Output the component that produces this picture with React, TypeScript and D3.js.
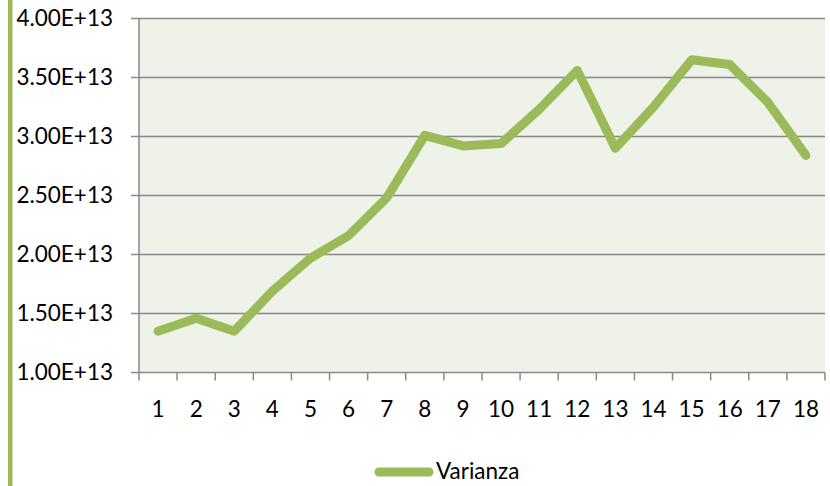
import React from "react";
import * as d3 from "d3";

const categories = ["1", "2", "3", "4", "5", "6", "7", "8", "9", "10", "11", "12", "13", "14", "15", "16", "17", "18"];
const varianza = [1.35e13, 1.46e13, 1.35e13, 1.69e13, 1.97e13, 2.16e13, 2.48e13, 3.01e13, 2.92e13, 2.94e13, 3.23e13, 3.56e13, 2.90e13, 3.25e13, 3.65e13, 3.61e13, 3.29e13, 2.84e13];
const yTicks = [1.0e13, 1.5e13, 2.0e13, 2.5e13, 3.0e13, 3.5e13, 4.0e13];
const seriesName = "Varianza";

const W = 830;
const H = 486;
const FONT = "Lato, 'Open Sans', sans-serif";
const FS = 22.5;

const App = () => {
    const ref = React.useRef<SVGSVGElement>(null);

    React.useEffect(() => {
        const svg = d3.select(ref.current);
        svg.selectAll("*").remove();

        const left = 139, right = 825, top = 18.5, bottom = 372.5;
        const x = d3.scaleBand().domain(categories).range([left, right]).padding(0);
        const y = d3.scaleLinear().domain([1e13, 4e13]).range([bottom, top]);

        // green bar on the left
        svg.append("rect")
            .attr("x", 8).attr("y", 0)
            .attr("width", 4.5).attr("height", H)
            .attr("fill", "#9BBB59");

        // plot background
        svg.append("rect")
            .attr("x", left).attr("y", top)
            .attr("width", right - left).attr("height", bottom - top)
            .attr("fill", "#EEF2E8");

        // gridlines + y labels
        yTicks.forEach((t) => {
            svg.append("line")
                .attr("x1", left - 8).attr("x2", right)
                .attr("y1", y(t)).attr("y2", y(t))
                .attr("stroke", "#898989").attr("stroke-width", 1.5);
            svg.append("text")
                .attr("x", 113).attr("y", y(t))
                .attr("dy", "0.35em")
                .attr("text-anchor", "end")
                .attr("font-family", FONT)
                .attr("font-size", FS)
                .attr("fill", "#000")
                .text(d3.format(".2f")(t / 1e13) + "E+13");
        });

        // y axis line
        svg.append("line")
            .attr("x1", left).attr("x2", left)
            .attr("y1", top).attr("y2", bottom)
            .attr("stroke", "#898989").attr("stroke-width", 1.5);

        // x ticks
        const bounds = categories.map((c) => x(c) as number).concat([right]);
        bounds.forEach((b) => {
            svg.append("line")
                .attr("x1", b).attr("x2", b)
                .attr("y1", bottom).attr("y2", bottom + 8)
                .attr("stroke", "#898989").attr("stroke-width", 1.5);
        });
        categories.forEach((c) => {
            svg.append("text")
                .attr("x", (x(c) as number) + x.bandwidth() / 2)
                .attr("y", 409)
                .attr("dy", "0.35em")
                .attr("text-anchor", "middle")
                .attr("font-family", FONT)
                .attr("font-size", FS)
                .attr("fill", "#000")
                .text(c);
        });

        // series line
        const line = d3.line<number>()
            .x((d, i) => (x(categories[i]) as number) + x.bandwidth() / 2)
            .y((d) => y(d));
        svg.append("path")
            .attr("d", line(varianza))
            .attr("fill", "none")
            .attr("stroke", "#9BBB59")
            .attr("stroke-width", 9)
            .attr("stroke-linejoin", "round")
            .attr("stroke-linecap", "round");

        // legend
        svg.append("line")
            .attr("x1", 379).attr("x2", 429)
            .attr("y1", 472).attr("y2", 472)
            .attr("stroke", "#9BBB59")
            .attr("stroke-width", 9)
            .attr("stroke-linecap", "round");
        svg.append("text")
            .attr("x", 436).attr("y", 471)
            .attr("dy", "0.35em")
            .attr("font-family", FONT)
            .attr("font-size", FS)
            .attr("fill", "#000")
            .text(seriesName);
    }, []);

    return (
        <svg ref={ref} width={W} height={H} style={{ position: "absolute", left: 0, top: 0, background: "#fff" }}></svg>
    );
};

export default App;
